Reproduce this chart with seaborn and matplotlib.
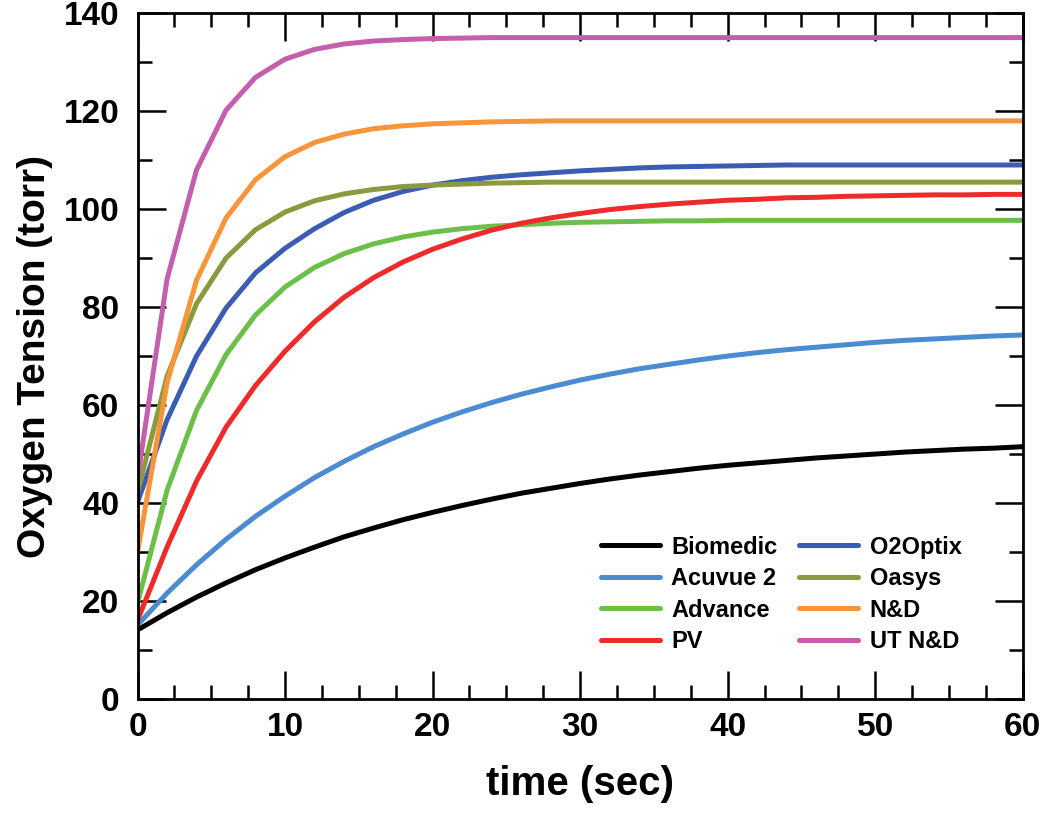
import matplotlib
matplotlib.use("Agg")
import matplotlib.pyplot as plt
from matplotlib.ticker import MultipleLocator
import pandas as pd
import seaborn as sns

# time in seconds, sampled every 2 s
time = list(range(0, 61, 2))

biomedic = [14.1, 17.6, 20.8, 23.7, 26.4, 28.8, 31.0, 33.1, 34.9, 36.6, 38.1,
            39.5, 40.8, 42.0, 43.0, 44.0, 44.9, 45.7, 46.4, 47.1, 47.7, 48.2,
            48.7, 49.2, 49.6, 50.0, 50.4, 50.7, 51.0, 51.2, 51.5]
acuvue2 = [15.1, 21.6, 27.4, 32.6, 37.3, 41.4, 45.2, 48.5, 51.5, 54.1, 56.5,
           58.6, 60.5, 62.2, 63.7, 65.1, 66.3, 67.4, 68.3, 69.2, 70.0, 70.7,
           71.3, 71.8, 72.3, 72.8, 73.2, 73.5, 73.8, 74.1, 74.3]
advance = [19.6, 42.6, 58.9, 70.3, 78.4, 84.1, 88.1, 90.9, 92.9, 94.3, 95.3,
           96.0, 96.5, 96.8, 97.1, 97.3, 97.4, 97.5, 97.6, 97.6, 97.7, 97.7,
           97.7, 97.7, 97.7, 97.7, 97.7, 97.7, 97.7, 97.7, 97.7]
pv = [16.1, 31.0, 44.5, 55.5, 64.0, 71.0, 77.0, 82.0, 86.0, 89.2, 91.8,
      93.9, 95.7, 97.1, 98.2, 99.1, 99.9, 100.5, 101.0, 101.4, 101.8, 102.0,
      102.3, 102.4, 102.6, 102.7, 102.8, 102.9, 102.9, 103.0, 103.0]
o2optix = [40.2, 57.0, 70.0, 79.8, 87.0, 92.0, 96.0, 99.3, 101.8, 103.6, 104.9,
           105.8, 106.5, 107.0, 107.4, 107.8, 108.1, 108.4, 108.6, 108.7, 108.8,
           108.9, 109.0, 109.0, 109.0, 109.0, 109.0, 109.0, 109.0, 109.0, 109.0]
oasys = [42.2, 65.9, 80.7, 90.0, 95.8, 99.4, 101.7, 103.1, 104.0, 104.6, 104.9,
         105.1, 105.3, 105.4, 105.5, 105.5, 105.5, 105.5, 105.5, 105.5, 105.5,
         105.5, 105.5, 105.5, 105.5, 105.5, 105.5, 105.5, 105.5, 105.5, 105.5]
nd = [30.0, 64.5, 85.5, 98.2, 106.0, 110.7, 113.6, 115.3, 116.4, 117.0, 117.4,
      117.6, 117.8, 117.9, 118.0, 118.0, 118.0, 118.0, 118.0, 118.0, 118.0,
      118.0, 118.0, 118.0, 118.0, 118.0, 118.0, 118.0, 118.0, 118.0, 118.0]
ut_nd = [45.0, 85.7, 108.0, 120.2, 126.9, 130.6, 132.6, 133.7, 134.3, 134.6, 134.8,
         134.9, 135.0, 135.0, 135.0, 135.0, 135.0, 135.0, 135.0, 135.0, 135.0,
         135.0, 135.0, 135.0, 135.0, 135.0, 135.0, 135.0, 135.0, 135.0, 135.0]

lenses = ['Biomedic', 'Acuvue 2', 'Advance', 'PV', 'O2Optix', 'Oasys', 'N&D', 'UT N&D']
series = [biomedic, acuvue2, advance, pv, o2optix, oasys, nd, ut_nd]
colors = ['#000000', '#4a8bd2', '#6cc04a', '#ee2a2a', '#3a5db3', '#8a9a3e', '#f8943a', '#c45eae']

df = pd.concat([pd.DataFrame({'time': time, 'pO2': vals, 'lens': name})
                for name, vals in zip(lenses, series)], ignore_index=True)

sns.set_style('ticks')
plt.rcParams['font.family'] = ['Liberation Sans', 'DejaVu Sans']
plt.rcParams['font.weight'] = 'bold'
plt.rcParams['text.color'] = 'black'
plt.rcParams['axes.labelcolor'] = 'black'
plt.rcParams['xtick.color'] = 'black'
plt.rcParams['ytick.color'] = 'black'

fig = plt.figure(figsize=(10.5, 8.19), dpi=100)
ax = fig.add_axes([0.131, 0.1465, 0.843, 0.8375])

sns.lineplot(data=df, x='time', y='pO2', hue='lens', hue_order=lenses,
             palette=dict(zip(lenses, colors)), linewidth=3.6, ax=ax)

ax.set_xlim(0, 60)
ax.set_ylim(0, 140)
ax.xaxis.set_major_locator(MultipleLocator(10))
ax.xaxis.set_minor_locator(MultipleLocator(2.5))
ax.yaxis.set_major_locator(MultipleLocator(20))
ax.yaxis.set_minor_locator(MultipleLocator(10))
ax.tick_params(which='both', direction='in', top=True, right=True, width=1.8,
               color='black', labelcolor='black')
ax.tick_params(which='major', length=20)
ax.tick_params(which='minor', length=10)
ax.tick_params(axis='x', which='major', pad=9, labelsize=24)
ax.tick_params(axis='y', which='major', pad=13, labelsize=24)
for lbl in ax.get_xticklabels() + ax.get_yticklabels():
    lbl.set_fontweight('bold')
for sp in ax.spines.values():
    sp.set_visible(True)
    sp.set_linewidth(2.0)
    sp.set_color('black')

ax.set_xlabel('time (sec)', fontsize=29, fontweight='bold', labelpad=16)
ax.set_ylabel('Oxygen Tension (torr)', fontsize=28, fontweight='bold', labelpad=8)

leg = ax.legend(ncol=2, loc='lower right', bbox_to_anchor=(0.955, 0.036), frameon=False,
                fontsize=17, handlelength=2.5, handletextpad=0.5, columnspacing=0.9,
                labelspacing=0.36, title=None)
for t in leg.get_texts():
    t.set_fontweight('bold')
    t.set_color('black')
for h in leg.get_lines():
    h.set_linewidth(3.6)

fig.savefig('out.png', dpi=100)
